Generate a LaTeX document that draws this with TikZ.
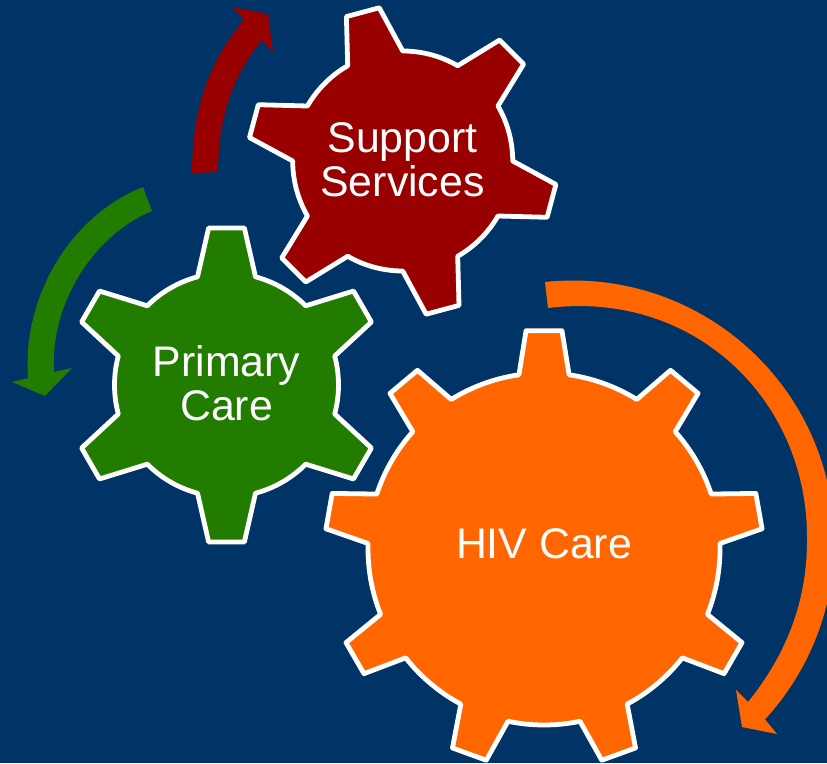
\documentclass[tikz,border=0pt]{standalone}
\usepackage{fontspec}
\setmainfont{Liberation Sans}
\definecolor{navyback}{RGB}{0,51,102}
\definecolor{gearred}{RGB}{153,0,0}
\definecolor{geargreen}{RGB}{34,124,0}
\definecolor{gearorange}{RGB}{255,102,0}

% #1 colour, #2 centre, #3 first tooth, #4 last tooth, #5 teeth, #6 root radius, #7 tip radius, #8 root half angle, #9 tip half angle
\newcommand{\gearat}[9]{
    \draw[gearline,fill=#1,shift={(#2)}] (#3-#8:#6)
        \foreach \k [evaluate=\k as \t using #3+\k*360/#5] in {0,...,#4} {
            -- (\t-#8:#6) -- (\t-#9:#7) -- (\t+#9:#7) -- (\t+#8:#6)
            arc[start angle=\t+#8,end angle=\t+360/#5-#8,radius=#6]
        } -- cycle;
}
\tikzset{
    gearline/.style={draw=white,line width=3.6pt,line join=round},
    gearlabel/.style={text=white,align=center,inner sep=0pt,font=\fontsize{32.1}{33}\selectfont}
}

\begin{document}
\begin{tikzpicture}[x=0.75pt,y=-0.75pt]
    \useasboundingbox (0,0) rectangle (827,763);
    \clip (0,0) rectangle (827,763);
    \fill[navyback] (0,0) rectangle (827,763);

    % the three gears
    \gearat{gearred}{402.7,161}{255}{5}{6}{110}{155}{15}{6.3}
    \gearat{geargreen}{226.5,385}{270}{5}{6}{112}{158}{15}{6.5}
    \gearat{gearorange}{544,549}{270}{8}{9}{176}{219}{8.2}{4.7}

    \node[gearlabel] (supportlabel) at (402.5,160) {Support\\Services};
    \node[gearlabel] (primarylabel) at (226.5,383) {Primary\\Care};
    \node[gearlabel] (hivlabel) at (544,544) {HIV Care};

    % arrows round the gears
    \fill[gearred] (192,173) .. controls (192,108) and (210,60) .. (244,20)
        -- (233,7) -- (268,14) -- (273,52) -- (262,40)
        .. controls (232,76) and (218,120) .. (218,172) -- cycle;
    \fill[geargreen] (143,187) .. controls (72,215) and (22,295) .. (28,378)
        -- (12,382) -- (45,396) -- (72,368) -- (54,372)
        .. controls (50,305) and (92,236) .. (152,211) -- cycle;
    \fill[gearorange] (545,282) arc[start angle=263.9,end angle=402.7,radius=261.5]
        -- (777,734) -- (742,727) -- (736,690) -- (748,702)
        .. controls (790,650) and (808,595) .. (807,535)
        .. controls (806,400) and (695,290) .. (548,308) -- cycle;
\end{tikzpicture}
\end{document}
